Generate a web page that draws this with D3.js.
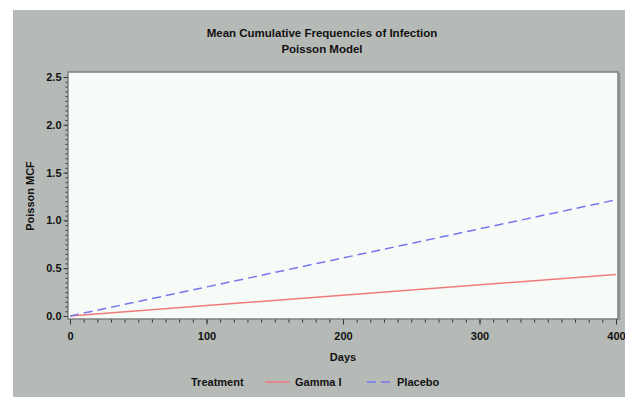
<!DOCTYPE html>
<html>
<head>
<meta charset="utf-8">
<script src="https://cdn.jsdelivr.net/npm/d3@7"></script>
<style>
  body { margin: 0; background: #fff; }
  text { font-family: "Liberation Sans", Arial, sans-serif; font-weight: bold; fill: #111; }
</style>
</head>
<body>
<div id="chart"></div>
<script>
// chart data
const days = [0, 400];
const gammaMCF = [0, 0.435];
const placeboMCF = [0, 1.215];
const xTicks = [0, 100, 200, 300, 400];
const yTicks = [0, 0.5, 1.0, 1.5, 2.0, 2.5];
const seriesNames = ["Gamma I", "Placebo"];

const W = 625, H = 397;
const margin = {top: 72, right: 7, bottom: 78, left: 68};

const svg = d3.select("#chart").append("svg")
    .attr("width", W)
    .attr("height", H);

// gray panel
svg.append("rect")
    .attr("x", 13).attr("y", 10)
    .attr("width", W - 13).attr("height", H - 10)
    .attr("fill", "#b6bab6");

// scales
const x = d3.scaleLinear().domain([0, 400]).range([70, 616]);
const y = d3.scaleLinear().domain([0, 2.5]).range([316, 77]);

// plot frame, with a slight shadow on the right edge
svg.append("line")
    .attr("x1", W - margin.right + 1.5).attr("x2", W - margin.right + 1.5)
    .attr("y1", margin.top + 1).attr("y2", H - margin.bottom + 1)
    .attr("stroke", "#8e918e").attr("stroke-width", 1.5);
svg.append("rect")
    .attr("x", margin.left).attr("y", margin.top)
    .attr("width", W - margin.right - margin.left)
    .attr("height", H - margin.bottom - margin.top)
    .attr("fill", "#f7fbf8")
    .attr("stroke", "#7d807d")
    .attr("stroke-width", 1.5);

// titles
svg.append("text").attr("x", 322).attr("y", 37)
    .attr("text-anchor", "middle").style("font-size", "11.5px")
    .text("Mean Cumulative Frequencies of Infection");
svg.append("text").attr("x", 322).attr("y", 53)
    .attr("text-anchor", "middle").style("font-size", "11.5px")
    .text("Poisson Model");

// axes
const frameBottom = H - margin.bottom + 0.5;
const xAxisMinor = d3.axisBottom(x).tickValues(d3.range(0, 401, 10)).tickSize(3).tickFormat("");
const xAxis = d3.axisBottom(x).tickValues(xTicks).tickSize(5).tickPadding(8).tickFormat(d3.format("d"));
[xAxisMinor, xAxis].forEach(ax => {
    const g = svg.append("g").attr("transform", `translate(0,${frameBottom})`).call(ax);
    g.select(".domain").remove();
    g.selectAll("line").attr("stroke", "#333");
    g.selectAll("text").style("font-size", "11px").style("font-family", "Liberation Sans, Arial, sans-serif").style("font-weight", "bold").attr("fill", "#111");
});

const frameLeft = margin.left - 0.5;
const yAxisMinor = d3.axisLeft(y).tickValues(d3.range(0, 2.501, 0.05)).tickSize(2).tickFormat("");
const yAxis = d3.axisLeft(y).tickValues(yTicks).tickSize(4).tickPadding(2).tickFormat(d3.format(".1f"));
[yAxisMinor, yAxis].forEach(ax => {
    const g = svg.append("g").attr("transform", `translate(${frameLeft},0)`).call(ax);
    g.select(".domain").remove();
    g.selectAll("line").attr("stroke", "#333");
    g.selectAll("text").style("font-size", "11px").style("font-family", "Liberation Sans, Arial, sans-serif").style("font-weight", "bold").attr("fill", "#111");
});

// axis labels
svg.append("text").attr("x", 343).attr("y", 361)
    .attr("text-anchor", "middle").style("font-size", "11px").text("Days");
svg.append("text")
    .attr("transform", "translate(34,196) rotate(-90)")
    .attr("text-anchor", "middle").style("font-size", "11px").text("Poisson MCF");

// lines
const line = d3.line().x(d => x(d[0])).y(d => y(d[1]));
const gammaPts = days.map((d, i) => [d, gammaMCF[i]]);
const placeboPts = days.map((d, i) => [d, placeboMCF[i]]);

svg.append("path").datum(gammaPts)
    .attr("d", line).attr("fill", "none")
    .attr("stroke", "#f07a7a").attr("stroke-width", 1.5);
svg.append("path").datum(placeboPts)
    .attr("d", line).attr("fill", "none")
    .attr("stroke", "#7676ee").attr("stroke-width", 1.5)
    .attr("stroke-dasharray", "9,5");

// legend
const ly = 382;
svg.append("text").attr("x", 191).attr("y", ly + 4).style("font-size", "11px").text("Treatment");
svg.append("line").attr("x1", 265).attr("x2", 290).attr("y1", ly).attr("y2", ly)
    .attr("stroke", "#f07a7a").attr("stroke-width", 1.5);
svg.append("text").attr("x", 295).attr("y", ly + 4).style("font-size", "11px").text(seriesNames[0]);
svg.append("line").attr("x1", 367).attr("x2", 392).attr("y1", ly).attr("y2", ly)
    .attr("stroke", "#7676ee").attr("stroke-width", 1.5).attr("stroke-dasharray", "9,5");
svg.append("text").attr("x", 397).attr("y", ly + 4).style("font-size", "11px").text(seriesNames[1]);
</script>
</body>
</html>
